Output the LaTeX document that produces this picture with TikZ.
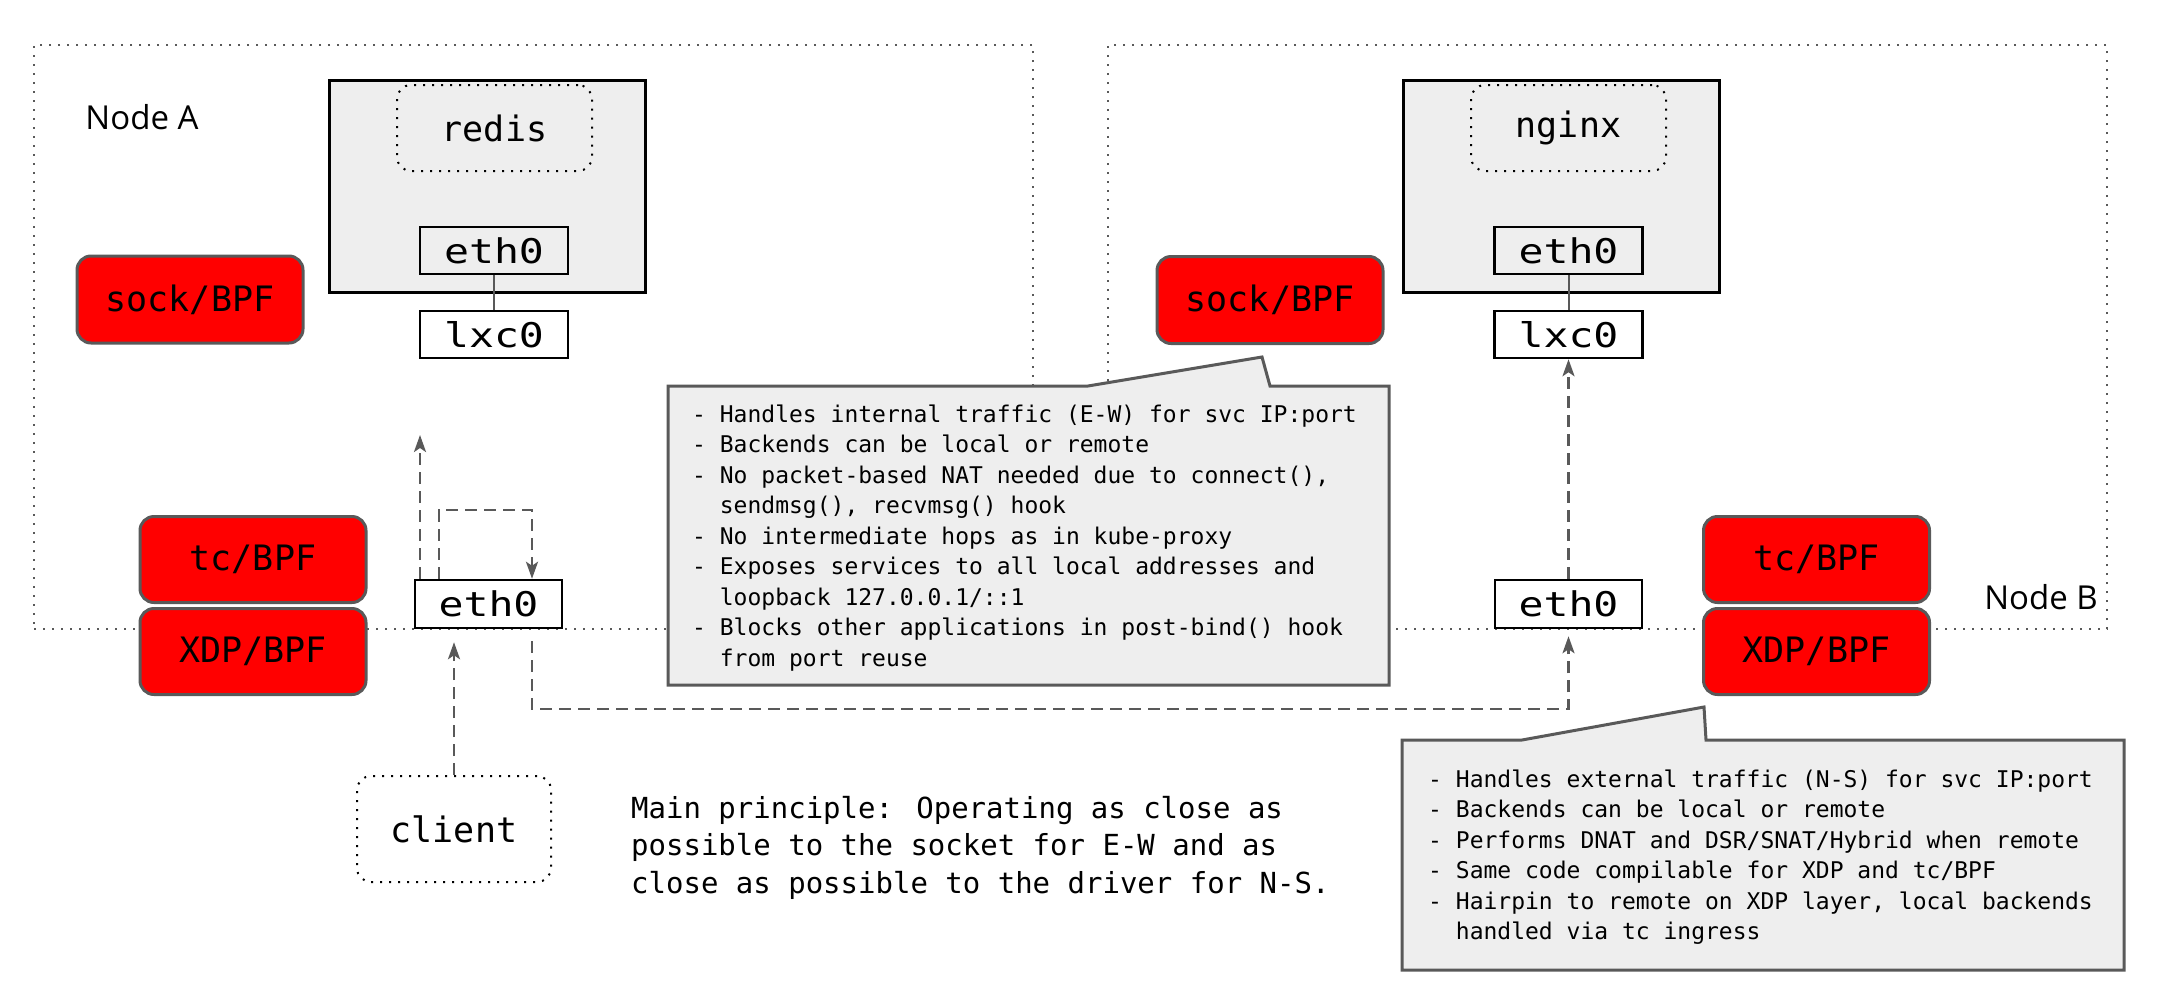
\documentclass[tikz,border=0pt]{standalone}
\usepackage{fontspec}
\setmainfont{DejaVu Sans Mono}
\newfontfamily\monof{DejaVu Sans Mono}
\newfontfamily\osans{Open Sans}
\usetikzlibrary{arrows.meta}
\definecolor{boxgray}{HTML}{EEEEEE}
\definecolor{edgegray}{HTML}{595959}
\definecolor{bpfred}{HTML}{FF0000}
\newcommand{\fsz}[2]{\fontsize{#1}{#2}\selectfont}
\newcommand{\wide}[1]{\scalebox{1.22}[1]{#1}}
\begin{document}
\begin{tikzpicture}[x=1pt,y=-1pt,
  region/.style={draw=edgegray, line width=2pt, dash pattern=on 2pt off 7pt, inner sep=0pt},
  container/.style={draw=black, fill=boxgray, line width=3pt, inner sep=0pt},
  app/.style={draw=black, line width=2pt, dash pattern=on 2pt off 7pt, rounded corners=14pt, inner sep=0pt, font=\monof\fsz{35}{42}},
  iface/.style={draw=black, fill=white, line width=2.5pt, inner sep=0pt, minimum width=148pt, minimum height=47pt, font=\monof\fsz{34}{40}},
  bpf/.style={draw=edgegray, fill=bpfred, line width=3pt, rounded corners=14pt, inner sep=0pt, minimum width=226pt, minimum height=86pt, font=\monof\fsz{35}{42}},
  conn/.style={draw=edgegray, line width=2.5pt, dash pattern=on 12pt off 7pt, -{Stealth[length=17pt,width=12pt,inset=4pt]}},
  link/.style={draw=edgegray, line width=2pt},
  callout/.style={draw=edgegray, fill=boxgray, line width=3pt, line join=miter},
  nodelabel/.style={inner sep=0pt, font=\osans\fsz{33}{38}},
  notes/.style={inner sep=0pt, anchor=base west, font=\monof\fsz{23}{30.5}},
]
\useasboundingbox (0,0) rectangle (2160,1004);

% node regions
\node[region, minimum width=999pt, minimum height=584pt] (regA) at (533.5,337) {};
\node[region, minimum width=999pt, minimum height=584pt] (regB) at (1607.5,337) {};
\node[nodelabel] (labA) at (142,117) {Node A};
\node[nodelabel] (labB) at (2041,597) {Node B};

% Node A
\node[container, minimum width=316pt, minimum height=212pt] (contA) at (487,186) {};
\node[app, minimum width=195pt, minimum height=86pt] (redis) at (494.5,128) {redis};
\node[iface, fill=boxgray] (ethA) at (494,250.5) {\wide{eth0}};
\node[iface] (lxcA) at (494,334.5) {\wide{lxc0}};
\node[bpf, minimum height=87pt] (sockA) at (190,299.5) {sock/BPF};
\node[bpf] (tcA) at (253,559.5) {tc/BPF};
\node[bpf] (xdpA) at (253,651.5) {XDP/BPF};
\node[iface, minimum width=147pt, minimum height=48pt] (hethA) at (488.5,604) {\wide{eth0}};
\node[app, minimum width=194pt, minimum height=106pt] (client) at (454,829) {client};

% Node B
\node[container, minimum width=316pt, minimum height=212pt] (contB) at (1561,186) {};
\node[app, minimum width=195pt, minimum height=86pt] (nginx) at (1568.5,128) {nginx};
\node[iface, fill=boxgray] (ethB) at (1568.5,250.5) {\wide{eth0}};
\node[iface] (lxcB) at (1568.5,334.5) {\wide{lxc0}};
\node[bpf, minimum height=87pt] (sockB) at (1270,300) {sock/BPF};
\node[bpf] (tcB) at (1816.5,559.5) {tc/BPF};
\node[bpf] (xdpB) at (1816.5,651.5) {XDP/BPF};
\node[iface, minimum width=147pt, minimum height=48pt] (hethB) at (1568.5,604) {\wide{eth0}};

% links
\draw[link] (ethA) -- (lxcA);
\draw[link] (ethB) -- (lxcB);

% connectors
\coordinate (upA) at (420,435);
\coordinate (loopL) at (439,510);
\coordinate (loopR) at (532,510);
\coordinate (ewy) at (532,709);
\draw[conn] (upA |- hethA.north) -- (upA);
\draw[conn] (loopL |- hethA.north) -- (loopL) -- (loopR) -- (loopR |- hethA.north);
\draw[conn, shorten >=13pt] (client.north) -- (client.north |- hethA.south);
\draw[conn, shorten >=7pt] ([yshift=-12pt]loopR |- hethA.south) -- (ewy) -- (hethB.south |- ewy) -- (hethB.south);
\draw[conn] (hethB.north) -- (lxcB.south);

% callouts
\draw[callout] (668,386) -- (1088,386) -- (1262,357) -- (1270,386) -- (1389,386) -- (1389,685) -- (668,685) -- cycle;
\node[notes] (noteEW) at (692,422) {\vtop{%
\hbox{- Handles internal traffic (E-W) for svc IP:port}
\hbox{- Backends can be local or remote}
\hbox{- No packet-based NAT needed due to connect(),}
\hbox{\phantom{- }sendmsg(), recvmsg() hook}
\hbox{- No intermediate hops as in kube-proxy}
\hbox{- Exposes services to all local addresses and}
\hbox{\phantom{- }loopback 127.0.0.1/::1}
\hbox{- Blocks other applications in post-bind() hook}
\hbox{\phantom{- }from port reuse}}};

\draw[callout] (1402,740) -- (1522,740) -- (1704,707) -- (1706,740) -- (2124,740) -- (2124,970) -- (1402,970) -- cycle;
\node[notes] (noteNS) at (1428,787) {\vtop{%
\hbox{- Handles external traffic (N-S) for svc IP:port}
\hbox{- Backends can be local or remote}
\hbox{- Performs DNAT and DSR/SNAT/Hybrid when remote}
\hbox{- Same code compilable for XDP and tc/BPF}
\hbox{- Hairpin to remote on XDP layer, local backends}
\hbox{\phantom{- }handled via tc ingress}}};

\node[notes, font=\monof\fsz{29}{37.5}] (principle) at (631,818) {\vtop{%
\hbox{Main principle: Operating as close as}
\hbox{possible to the socket for E-W and as}
\hbox{close as possible to the driver for N-S.}}};
\end{tikzpicture}
\end{document}
